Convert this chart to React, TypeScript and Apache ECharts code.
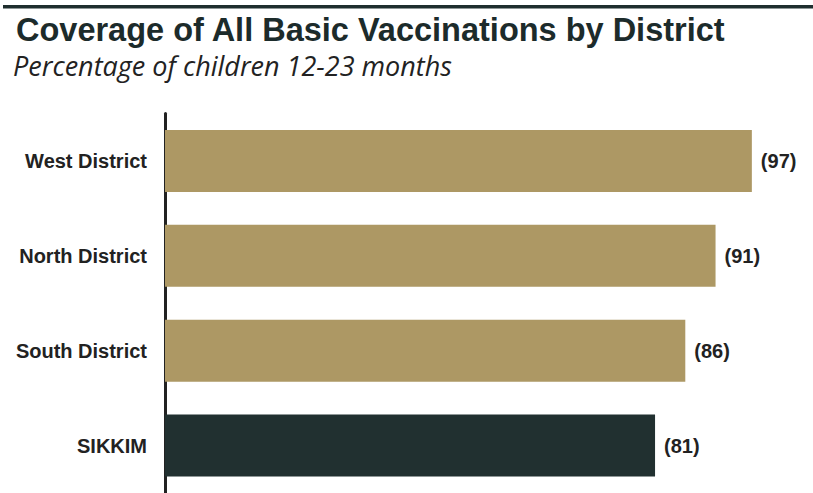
import React, { useEffect, useRef } from "react";
import * as echarts from "echarts";

const categories = ["West District", "North District", "South District", "SIKKIM"];
const values = [97, 91, 86, 81];
const barColors = ["#ad9864", "#ad9864", "#ad9864", "#213030"];

const titleText = "Coverage of All Basic Vaccinations by District";
const subtitleText = "Percentage of children 12-23 months";

export default function App() {
  const ref = useRef<HTMLDivElement>(null);
  useEffect(() => {
    if (!ref.current) return;
    const chart = echarts.init(ref.current, null, { renderer: "svg" });
    chart.setOption({
      animation: false,
      backgroundColor: "#ffffff",
      graphic: [
        {
          type: "rect",
          shape: { x: 3, y: 5, width: 810, height: 3.5 },
          style: { fill: "#1f2e2e" },
        },
        {
          type: "text",
          x: 16,
          y: 13,
          style: {
            text: titleText,
            fontFamily: "Liberation Sans, Arial, sans-serif",
            fontWeight: "bold",
            fontSize: 32.5,
            fill: "#1c2b2b",
            verticalAlign: "top",
          },
        },
        {
          type: "text",
          x: 13,
          y: 52,
          style: {
            text: subtitleText,
            fontFamily: "Open Sans, sans-serif",
            fontStyle: "italic",
            fontSize: 27,
            fill: "#222222",
            verticalAlign: "top",
          },
        },
      ],
      grid: { left: 165, top: 113.5, width: 605, height: 386, containLabel: false },
      xAxis: { type: "value", min: 0, max: 100, show: false },
      yAxis: {
        type: "category",
        data: categories,
        inverse: true,
        axisLine: { show: true, lineStyle: { color: "#222222", width: 3 } },
        axisTick: { show: false },
        axisLabel: {
          margin: 18,
          color: "#222222",
          fontFamily: "Liberation Sans, Arial, sans-serif",
          fontWeight: "bold",
          fontSize: 20,
        },
      },
      series: [
        {
          type: "bar",
          data: values.map((v, i) => ({ value: v, itemStyle: { color: barColors[i] } })),
          barWidth: 62,
          z: 1,
          label: {
            show: true,
            position: "right",
            distance: 9,
            formatter: (p: any) => `(${p.value})`,
            color: "#222222",
            fontFamily: "Liberation Sans, Arial, sans-serif",
            fontWeight: "bold",
            fontSize: 20,
          },
        },
      ],
    });
    return () => chart.dispose();
  }, []);
  return (
    <div
      ref={ref}
      style={{ position: "fixed", left: 0, top: 0, width: 813, height: 493 }}
    />
  );
}
